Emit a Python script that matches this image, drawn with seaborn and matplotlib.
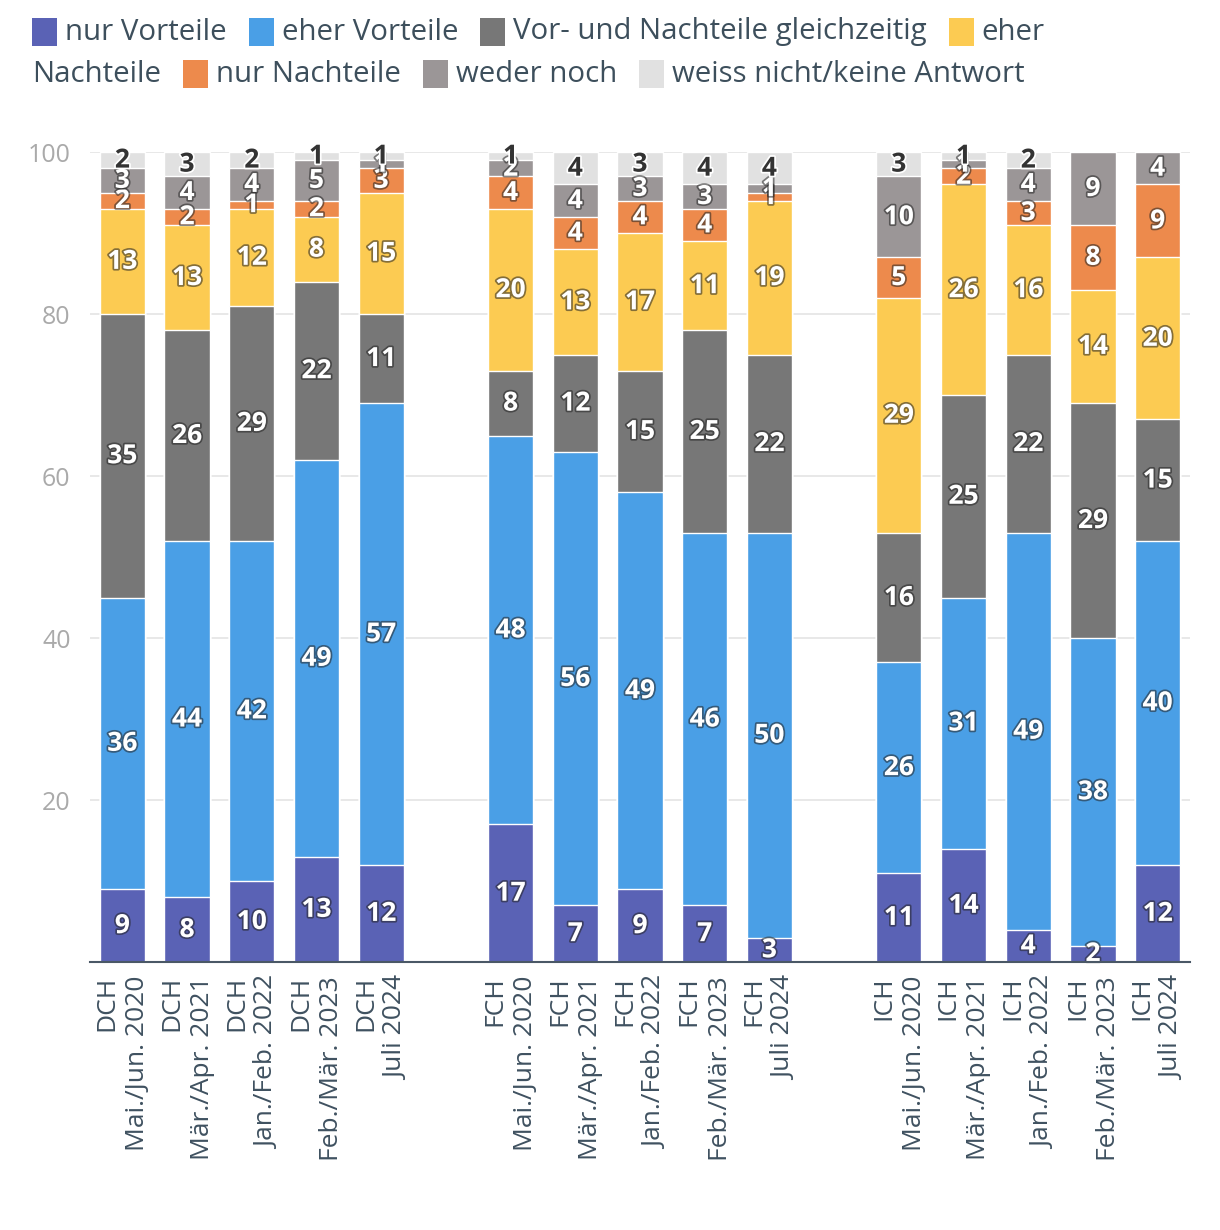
import matplotlib
matplotlib.use("Agg")
import matplotlib.pyplot as plt
import matplotlib.patheffects as pe
import numpy as np
import pandas as pd
import seaborn as sns

# ---------------- data ----------------
series_names = ["nur Vorteile", "eher Vorteile", "Vor- und Nachteile gleichzeitig",
                "eher Nachteile", "nur Nachteile", "weder noch", "weiss nicht/keine Antwort"]
regions = ["DCH"] * 5 + ["FCH"] * 5 + ["ICH"] * 5
periods = ["Mai./Jun. 2020", "Mär./Apr. 2021", "Jan./Feb. 2022", "Feb./Mär. 2023", "Juli 2024"] * 3

nur_vorteile   = [9, 8, 10, 13, 12,   17, 7, 9, 7, 3,    11, 14, 4, 2, 12]
eher_vorteile  = [36, 44, 42, 49, 57, 48, 56, 49, 46, 50, 26, 31, 49, 38, 40]
vor_und_nach   = [35, 26, 29, 22, 11, 8, 12, 15, 25, 22, 16, 25, 22, 29, 15]
eher_nachteile = [13, 13, 12, 8, 15,  20, 13, 17, 11, 19, 29, 26, 16, 14, 20]
nur_nachteile  = [2, 2, 1, 2, 3,      4, 4, 4, 4, 1,     5, 2, 3, 8, 9]
weder_noch     = [3, 4, 4, 5, 1,      2, 4, 3, 3, 1,     10, 1, 4, 9, 4]
weiss_nicht    = [2, 3, 2, 1, 1,      1, 4, 3, 4, 4,     3, 1, 2, 0, 0]

layers = [nur_vorteile, eher_vorteile, vor_und_nach, eher_nachteile,
          nur_nachteile, weder_noch, weiss_nicht]
colors = ["#5a62b5", "#4a9fe6", "#777777", "#fccb52", "#ed8a4c", "#9b9697", "#e1e1e1"]

cats = [f"{r}\n{p}" for r, p in zip(regions, periods)]
order = cats[:5] + [" "] + cats[5:10] + ["  "] + cats[10:]

# ---------------- figure ----------------
sns.set_theme(style="white")
plt.rcParams["font.family"] = ["Open Sans", "DejaVu Sans"]

fig = plt.figure(figsize=(12.2, 12.3), dpi=100)
ax = fig.add_axes([90 / 1220, 1 - 962 / 1230, 1100 / 1220, 810 / 1230])

vals = np.array(layers, dtype=float)
cum = np.cumsum(vals, axis=0)

for k in range(len(layers) - 1, -1, -1):
    df = pd.DataFrame({"cat": cats, "val": cum[k]})
    sns.barplot(data=df, x="cat", y="val", order=order, color=colors[k],
                saturation=1, width=0.7, errorbar=None, ax=ax, zorder=2)

# value labels
for i, c in enumerate(cats):
    pos = order.index(c)
    for k in range(len(layers)):
        v = layers[k][i]
        if v <= 0:
            continue
        y = cum[k][i] - v / 2
        if k == len(layers) - 1:
            col, fx = "#333333", [pe.withStroke(linewidth=2.5, foreground="white")]
        else:
            col, fx = "white", [pe.withStroke(linewidth=2.5, foreground="#222222", alpha=0.55)]
        ax.text(pos, y, str(v), ha="center", va="center", fontsize=19,
                fontweight="bold", color=col, path_effects=fx, zorder=5)

ax.set_ylim(0, 100)
ax.set_xlim(-0.5, len(order) - 0.5)
ax.set_yticks([20, 40, 60, 80, 100])
ax.yaxis.grid(True, color="#e6e6e6", linewidth=1.3, zorder=0)
ax.set_axisbelow(True)
ax.tick_params(axis="y", labelsize=18, labelcolor="#aaaaaa", length=0, pad=14)
ax.set_xticks(range(len(order)))
ax.set_xticklabels(order, rotation=90, fontsize=19, color="#3f5160",
                   ha="center", va="top", multialignment="right", linespacing=1.3)
ax.tick_params(axis="x", length=0, pad=10)
ax.set_xlabel("")
ax.set_ylabel("")
for s in ["left", "right", "top"]:
    ax.spines[s].set_visible(False)
ax.spines["bottom"].set_color("#4a5866")
ax.spines["bottom"].set_linewidth(1.5)
ax.spines["bottom"].set_zorder(6)

# ---------------- legend (flowing, manual) ----------------
fig.canvas.draw()
renderer = fig.canvas.get_renderer()
W, H = 1220, 1230
leg_fs = 21.2
leg_col = "#3d4f5c"
sq_w, sq_h = 25, 28


def put_square(x, y, color):
    fig.patches.append(matplotlib.patches.Rectangle(
        (x / W, 1 - (y + sq_h / 2) / H), sq_w / W, sq_h / H,
        transform=fig.transFigure, facecolor=color, edgecolor="none"))


def put_text(x, y, s):
    t = fig.text(x / W, 1 - y / H, s, fontsize=leg_fs, color=leg_col,
                 ha="left", va="center")
    bb = t.get_window_extent(renderer)
    return x + bb.width


rows = [
    [(0, series_names[0]), (1, series_names[1]), (2, series_names[2]), (3, "eher")],
    [(None, "Nachteile"), (4, series_names[4]), (5, series_names[5]), (6, series_names[6])],
]
row_y = [32, 74]
for r, items in enumerate(rows):
    x = 32
    for idx, label in items:
        if idx is not None:
            put_square(x, row_y[r], colors[idx])
            x += sq_w + 8
        x = put_text(x, row_y[r], label)
        x += 22

fig.savefig("out.png", dpi=100)
